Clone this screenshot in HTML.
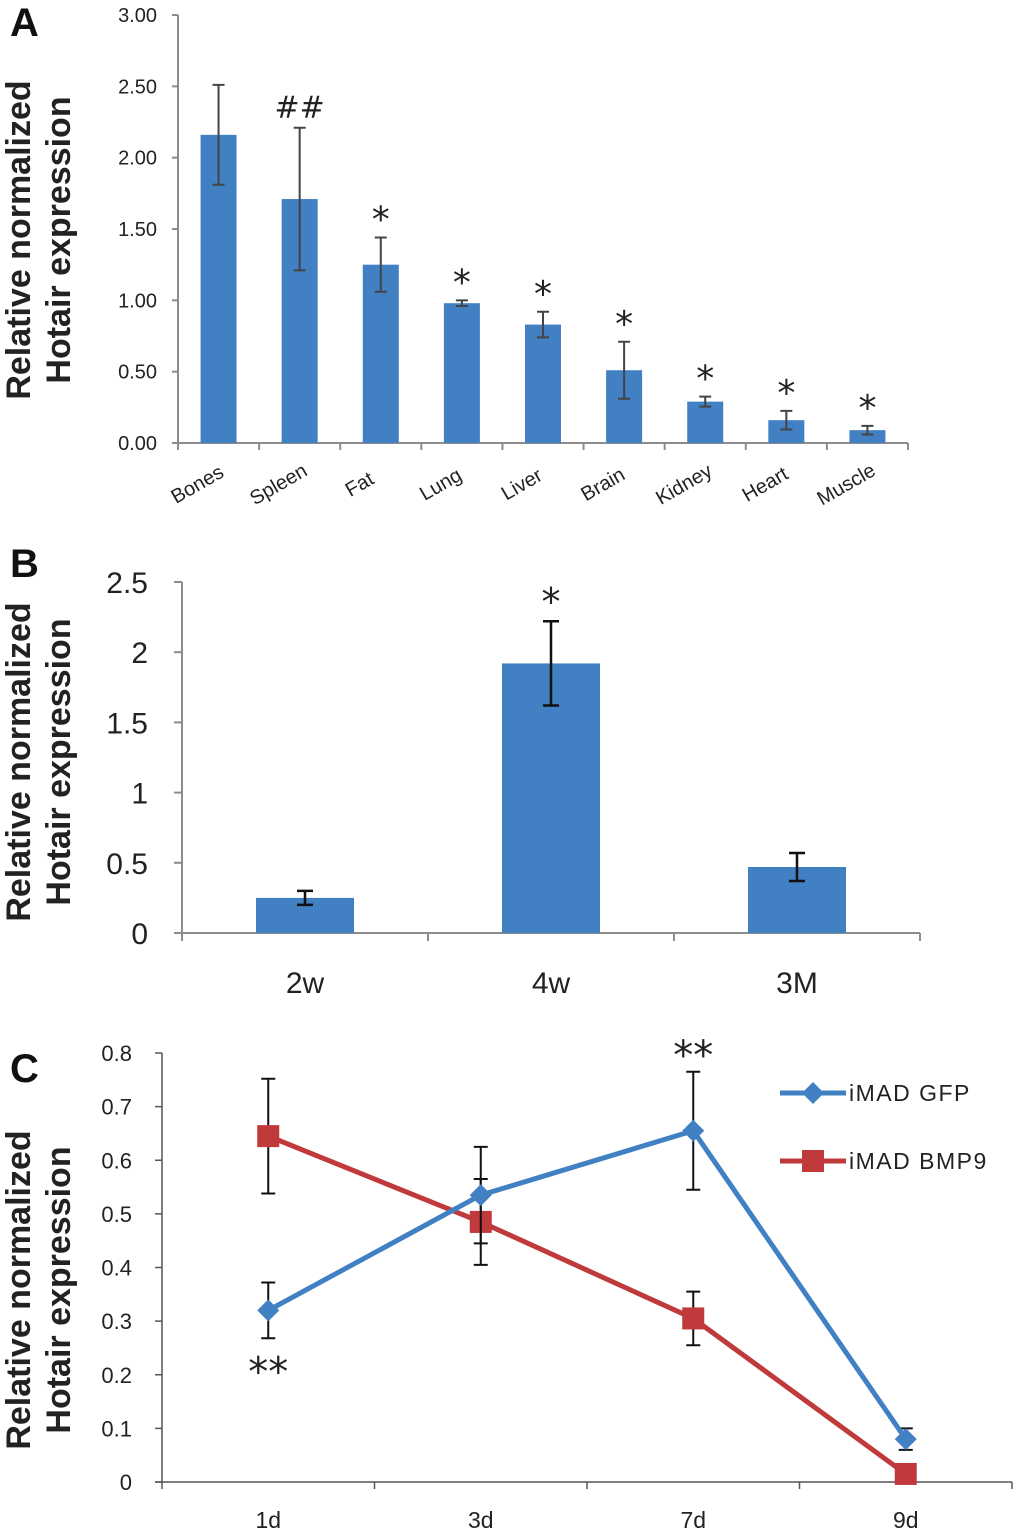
<!DOCTYPE html>
<html><head><meta charset="utf-8"><style>
body{margin:0;background:#fff}
svg{display:block;font-family:"Liberation Sans",sans-serif}
</style></head><body>
<svg id="chart" width="1020" height="1533" viewBox="0 0 1020 1533"></svg>
<script>
// Panel A data
const catsA=["Bones","Spleen","Fat","Lung","Liver","Brain","Kidney","Heart","Muscle"];
const valsA=[2.16,1.71,1.25,0.98,0.83,0.51,0.29,0.16,0.09];
const errA=[0.35,0.5,0.19,0.02,0.09,0.2,0.035,0.065,0.03];
const markA=["","##","*","*","*","*","*","*","*"];
const ticksA=["0.00","0.50","1.00","1.50","2.00","2.50","3.00"];
// Panel B data
const catsB=["2w","4w","3M"];
const valsB=[0.25,1.92,0.47];
const errB=[0.05,0.3,0.1];
const markB=["","*",""];
const ticksB=["0","0.5","1","1.5","2","2.5"];
// Panel C data
const catsC=["1d","3d","7d","9d"];
const gfp=[0.32,0.535,0.655,0.08];
const gfpErr=[0.052,0.09,0.11,0.02];
const bmp=[0.645,0.485,0.305,0.015];
const bmpErr=[0.107,0.08,0.05,0];
const ticksC=["0","0.1","0.2","0.3","0.4","0.5","0.6","0.7","0.8"];

const svg=document.getElementById('chart');
const NS="http://www.w3.org/2000/svg";
function mk(tag,attrs,parent,text){const e=document.createElementNS(NS,tag);for(const k in attrs)e.setAttribute(k,attrs[k]);if(text!==undefined)e.textContent=text;(parent||svg).appendChild(e);return e;}
const BLUE="#4180C2",RED="#C0393B",AX="#8c8c8c";
const STARFONT='"DejaVu Sans",sans-serif';

function ytitle(cy){
 const g=mk('g',{});
 
 
 mk('text',{x:0,y:0,transform:`translate(30,${cy}) rotate(-90)`,'text-anchor':'middle','font-size':34,'font-weight':'bold',fill:'#222'},g,'Relative normalized');
 mk('text',{x:0,y:0,transform:`translate(70,${cy}) rotate(-90)`,'text-anchor':'middle','font-size':34,'font-weight':'bold',fill:'#222'},g,'Hotair expression');
}
function letter(t,y){const e=mk('text',{x:10,y:y,'font-size':40,'font-weight':'bold',fill:'#111'},svg,t);
 
 }
function star(parent,x,yTop,size,txt){
 // yTop: top of glyph
 const m=mk('text',{x:x,y:yTop+size*0.78,'text-anchor':'middle','font-size':size,'font-family':STARFONT,fill:'#222'},parent,txt);
 
}

// ---- Panel A
(function(){
 const x0=178,x1=908,y0=443,yTop=15,max=3;
 const ys=v=>y0-(v/max)*(y0-yTop);
 const bw=(x1-x0)/catsA.length;
 letter('A',36); ytitle(240);
 const g=mk('g',{});
 mk('line',{x1:x0,y1:yTop,x2:x0,y2:y0,stroke:AX,'stroke-width':2},g);
 mk('line',{x1:x0-6,y1:y0,x2:x1,y2:y0,stroke:AX,'stroke-width':2},g);
 ticksA.forEach(t=>{const y=ys(+t);mk('line',{x1:x0-6,y1:y,x2:x0,y2:y,stroke:AX,'stroke-width':2},g);
  const e=mk('text',{x:x0-21,y:y+7,'text-anchor':'end','font-size':20,fill:'#222'},g,t);
  });
 for(let i=0;i<=catsA.length;i++){const x=x0+i*bw;mk('line',{x1:x,y1:y0,x2:x,y2:y0+7,stroke:AX,'stroke-width':2},g);}
 catsA.forEach((c,i)=>{const cx=x0+bw*(i+0.5);
  const r=mk('rect',{x:cx-18,y:ys(valsA[i]),width:36,height:y0-ys(valsA[i]),fill:BLUE},g);
  
  const t=ys(valsA[i]+errA[i]),b=ys(valsA[i]-errA[i]);
  mk('path',{d:`M${cx},${t}V${b}M${cx-6},${t}H${cx+6}M${cx-6},${b}H${cx+6}`,stroke:'#444','stroke-width':2,fill:'none'},g);
  if(markA[i]=='*') star(g,cx,t-34,36,'*');
  else if(markA[i]){const m=mk('text',{x:cx,y:t-10,'text-anchor':'middle','font-size':30,'font-family':STARFONT,fill:'#222'},g,markA[i]);
   }
  const l=mk('text',{x:0,y:0,transform:`translate(${cx-18},${y0+47}) rotate(-30)`,'text-anchor':'middle','font-size':20,fill:'#222'},g,c);
  
 });
})();

// ---- Panel B
(function(){
 const x0=182,x1=920,y0=933,yTop=582,max=2.5;
 const ys=v=>y0-(v/max)*(y0-yTop);
 const bw=(x1-x0)/catsB.length;
 letter('B',577); ytitle(762);
 const g=mk('g',{});
 mk('line',{x1:x0,y1:yTop,x2:x0,y2:y0,stroke:AX,'stroke-width':2},g);
 mk('line',{x1:x0-8,y1:y0,x2:x1,y2:y0,stroke:AX,'stroke-width':2},g);
 ticksB.forEach(t=>{const y=ys(+t);mk('line',{x1:x0-8,y1:y,x2:x0,y2:y,stroke:AX,'stroke-width':2},g);
  const e=mk('text',{x:x0-34,y:y+11,'text-anchor':'end','font-size':30,fill:'#222'},g,t);
  });
 for(let i=0;i<=catsB.length;i++){const x=x0+i*bw;mk('line',{x1:x,y1:y0,x2:x,y2:y0+8,stroke:AX,'stroke-width':2},g);}
 catsB.forEach((c,i)=>{const cx=x0+bw*(i+0.5);
  const r=mk('rect',{x:cx-49,y:ys(valsB[i]),width:98,height:y0-ys(valsB[i]),fill:BLUE},g);
  
  const t=ys(valsB[i]+errB[i]),b=ys(valsB[i]-errB[i]);
  mk('path',{d:`M${cx},${t}V${b}M${cx-8},${t}H${cx+8}M${cx-8},${b}H${cx+8}`,stroke:'#111','stroke-width':2.5,fill:'none'},g);
  if(markB[i]) star(g,cx,t-36,38,markB[i]);
  const l=mk('text',{x:cx,y:993,'text-anchor':'middle','font-size':30,fill:'#222'},g,c);
  
 });
})();

// ---- Panel C
(function(){
 const x0=162,x1=1012,y0=1482,yTop=1053,max=0.8;
 const ys=v=>y0-(v/max)*(y0-yTop);
 const bw=(x1-x0)/catsC.length;
 const xs=i=>x0+bw*(i+0.5);
 letter('C',1082); ytitle(1290);
 const g=mk('g',{});
 mk('line',{x1:x0,y1:yTop,x2:x0,y2:y0,stroke:'#555','stroke-width':1.5},g);
 mk('line',{x1:x0-7,y1:y0,x2:x1,y2:y0,stroke:'#555','stroke-width':1.5},g);
 ticksC.forEach(t=>{const y=ys(+t);mk('line',{x1:x0-7,y1:y,x2:x0,y2:y,stroke:'#555','stroke-width':1.5},g);
  const e=mk('text',{x:x0-30,y:y+8,'text-anchor':'end','font-size':22,fill:'#222'},g,t);
  });
 for(let i=0;i<=catsC.length;i++){const x=x0+i*(x1-x0)/4;mk('line',{x1:x,y1:y0,x2:x,y2:y0+7,stroke:'#555','stroke-width':1.5},g);}
 catsC.forEach((c,i)=>{const l=mk('text',{x:xs(i),y:1528,'text-anchor':'middle','font-size':23,fill:'#222'},g,c);
  });
 function series(vals,errs,col,name,shape){
  const sg=mk('g',{},g);
  
  
  vals.forEach((v,i)=>{if(!errs[i])return;const t=ys(v+errs[i]),b=ys(v-errs[i]),cx=xs(i);
   mk('path',{d:`M${cx},${t}V${b}M${cx-7},${t}H${cx+7}M${cx-7},${b}H${cx+7}`,stroke:'#111','stroke-width':2,fill:'none'},sg);});
  mk('polyline',{points:vals.map((v,i)=>xs(i)+','+ys(v)).join(' '),fill:'none',stroke:col,'stroke-width':5},sg);
  vals.forEach((v,i)=>{const cx=xs(i),cy=ys(v);
   const p=shape=='d'?mk('path',{d:`M${cx},${cy-11}L${cx+11},${cy}L${cx},${cy+11}L${cx-11},${cy}Z`,fill:col},sg)
    :mk('rect',{x:cx-11,y:cy-11,width:22,height:22,fill:col},sg);
   });
 }
 series(bmp,bmpErr,RED,'imad-bmp9','s');
 series(gfp,gfpErr,BLUE,'imad-gfp','d');
 star(g,xs(0),ys(gfp[0]-gfpErr[0])+16,40,'**');
 star(g,xs(2),ys(gfp[2]+gfpErr[2])-34,40,'**');
 // legend
 const lg=mk('g',{});
 mk('line',{x1:780,y1:1093,x2:846,y2:1093,stroke:BLUE,'stroke-width':5},lg);
 mk('path',{d:'M813,1082L824,1093L813,1104L802,1093Z',fill:BLUE},lg);
 const t1=mk('text',{x:849,y:1101,'font-size':23,fill:'#222','letter-spacing':1.5},lg,'iMAD GFP');
 
 mk('line',{x1:780,y1:1161,x2:846,y2:1161,stroke:RED,'stroke-width':5},lg);
 mk('rect',{x:802,y:1150,width:22,height:22,fill:RED},lg);
 const t2=mk('text',{x:849,y:1169,'font-size':23,fill:'#222','letter-spacing':1.5},lg,'iMAD BMP9');
 
})();
</script>
</body></html>
